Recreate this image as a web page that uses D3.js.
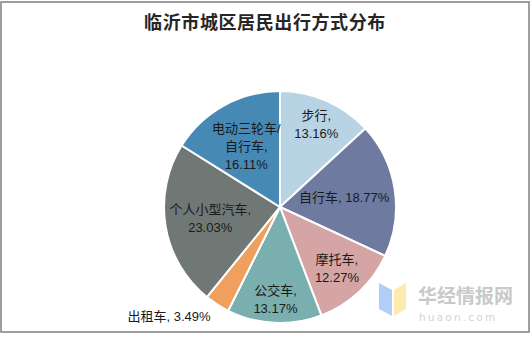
<!DOCTYPE html>
<html><head><meta charset="utf-8">
<script src="https://cdn.jsdelivr.net/npm/d3@7/dist/d3.min.js"></script>
<style>
html,body{margin:0;padding:0;background:#fff;}
svg{display:block;}
</style></head>
<body>
<svg id="c" width="532" height="337"></svg>
<script>
const title = "临沂市城区居民出行方式分布";
const categories = ["步行", "自行车", "摩托车", "公交车", "出租车", "个人小型汽车", "电动三轮车/自行车"];
const values = [13.16, 18.77, 12.27, 13.17, 3.49, 23.03, 16.11];
const colors = ["#b8d3e4", "#6f7aa0", "#d5a5a5", "#7aafaf", "#f0a05e", "#6f7874", "#4689b5"];
// label line breaks (text only)
const labelLines = [
  ["步行,", "13.16%"],
  ["自行车, 18.77%"],
  ["摩托车,", "12.27%"],
  ["公交车,", "13.17%"],
  ["出租车, 3.49%"],
  ["个人小型汽车,", "23.03%"],
  ["电动三轮车/", "自行车,", "16.11%"]
];
// label radial placement (fraction of radius); >1 = outside
const labelRadius = [0.78, 0.56, 0.72, 0.80, 1.12, 0.61, 0.60];

const svg = d3.select("#c");

// frame
svg.append("rect").attr("x", 1).attr("y", 2).attr("width", 528).attr("height", 330)
  .attr("fill", "#fff").attr("stroke", "#7f7f7f").attr("stroke-width", 1.5);

// title
svg.append("text").attr("x", 265).attr("y", 29).attr("text-anchor", "middle")
  .attr("font-family", "'Noto Sans CJK SC', sans-serif").attr("font-weight", 700)
  .attr("font-size", 18).attr("letter-spacing", 0.6).attr("fill", "#262626").text(title);

const cx = 280, cy = 207, R = 116;
const data = categories.map((c, i) => ({cat: c, value: values[i], i}));
const pie = d3.pie().value(d => d.value).sort(null);
const arcs = pie(data);
const arc = d3.arc().innerRadius(0).outerRadius(R);

const g = svg.append("g").attr("transform", `translate(${cx},${cy})`);
g.selectAll("path").data(arcs).join("path")
  .attr("d", arc).attr("fill", d => colors[d.data.i])
  .attr("stroke", "#fff").attr("stroke-width", 2).attr("stroke-linejoin", "round");

const lineH = 18;
arcs.forEach(a => {
  const i = a.data.i;
  const mid = (a.startAngle + a.endAngle) / 2;
  const r = R * labelRadius[i];
  const x = r * Math.sin(mid), y = -r * Math.cos(mid);
  const lines = labelLines[i];
  const outside = labelRadius[i] > 1;
  const t = g.append("text")
    .attr("font-family", "'Liberation Sans', 'Noto Sans CJK SC', sans-serif")
    .attr("font-size", 13).attr("fill", "#1a1a1a")
    .attr("text-anchor", outside ? "end" : "middle");
  const y0 = y - (lines.length - 1) * lineH / 2;
  lines.forEach((ln, k) => {
    t.append("tspan").attr("x", outside ? x + 1 : x).attr("y", y0 + k * lineH)
      .attr("dy", "0.35em").text(ln);
  });
});

// watermark
const wm = svg.append("g").attr("opacity", 0.9);
wm.append("path").attr("d", "M379,283 L392,290 L392,316 L379,309 Z").attr("fill", "#a9c9f7");
wm.append("path").attr("d", "M394,290 L406,283 L406,309 L394,316 Z").attr("fill", "#fbe9a6");
wm.append("text").attr("x", 418).attr("y", 303).attr("font-family", "'Noto Sans CJK SC', sans-serif")
  .attr("font-size", 19).attr("font-weight", 700).attr("fill", "#c4c4c4").text("华经情报网");
wm.append("text").attr("x", 419).attr("y", 321).attr("font-family", "'DejaVu Sans', sans-serif")
  .attr("font-size", 10.5).attr("letter-spacing", 2.2).attr("fill", "#cfcfcf").text("huaon.com");
</script>
</body></html>
